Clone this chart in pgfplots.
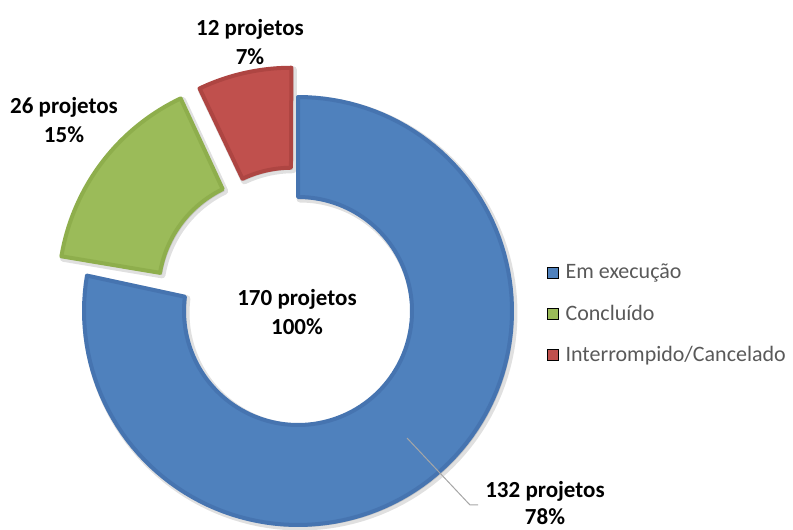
\documentclass[border=0pt]{standalone}
\usepackage{pgfplots}
\usepackage{pgfplotstable}
\pgfplotsset{compat=1.18}
\usepackage{fontspec}
\setmainfont{Carlito}
\definecolor{cblue}{HTML}{4F81BD}
\definecolor{cblueD}{HTML}{4674B0}
\definecolor{cgreen}{HTML}{9BBB59}
\definecolor{cgreenD}{HTML}{8EAE4C}
\definecolor{cred}{HTML}{C0504D}
\definecolor{credD}{HTML}{AE4542}
\definecolor{legendgray}{HTML}{595959}

\pgfplotstableread{
name value explode
Em 132 0
Concluido 26 32
Interrompido 12 30
}\piedata
\pgfplotstablegetelem{0}{value}\of\piedata \let\vA\pgfplotsretval
\pgfplotstablegetelem{1}{value}\of\piedata \let\vB\pgfplotsretval
\pgfplotstablegetelem{2}{value}\of\piedata \let\vC\pgfplotsretval
\pgfplotstablegetelem{0}{explode}\of\piedata \let\eA\pgfplotsretval
\pgfplotstablegetelem{1}{explode}\of\piedata \let\eB\pgfplotsretval
\pgfplotstablegetelem{2}{explode}\of\piedata \let\eC\pgfplotsretval
\pgfmathsetmacro\tot{\vA+\vB+\vC}
\pgfmathsetmacro\aA{90}
\pgfmathsetmacro\aB{90-360*(\vA/\tot)}
\pgfmathsetmacro\aC{\aB-360*(\vB/\tot)}
\pgfmathsetmacro\aD{\aC-360*(\vC/\tot)}
\pgfmathsetmacro\dxA{\eA*cos((\aA+\aB)/2)}
\pgfmathsetmacro\dyA{\eA*sin((\aA+\aB)/2)}
\pgfmathsetmacro\dxB{\eB*cos((\aB+\aC)/2)}
\pgfmathsetmacro\dyB{\eB*sin((\aB+\aC)/2)}
\pgfmathsetmacro\dxC{\eC*cos((\aC+\aD)/2)}
\pgfmathsetmacro\dyC{\eC*sin((\aC+\aD)/2)}
\def\cx{298}\def\cy{219}\def\Ro{214}\def\Ri{114}
% sector: #1 start angle, #2 end angle, #3 dx, #4 dy, #5 style
\newcommand\sector[5]{%
\addplot[line join=round, domain=0:2, samples=241, variable=\t, forget plot, #5]
 ({\cx+#3+((\t<=1.001) ? \Ro : \Ri)*cos((\t<=1.001) ? (#1+(#2-#1)*\t) : (#2-(#2-#1)*(\t-1)))},
  {\cy+#4+((\t<=1.001) ? \Ro : \Ri)*sin((\t<=1.001) ? (#1+(#2-#1)*\t) : (#2-(#2-#1)*(\t-1)))}) -- cycle;}

\begin{document}%
\begin{tikzpicture}
\path[use as bounding box] (0,0) rectangle (793bp,530bp);
\begin{axis}[scale only axis, width=793bp, height=530bp,
  xmin=0, xmax=793, ymin=0, ymax=530, hide axis, clip=false,
  legend style={at={(axis cs:547,268)}, anchor=north west, draw=none, fill=none,
    font=\fontsize{22bp}{26bp}\selectfont, text=legendgray, row sep=20.5bp, inner sep=0pt,
    cells={anchor=west}},
  legend cell align=left,
  legend image code/.code={\fill[#1] (0bp,-5.5bp) rectangle (11bp,5.5bp); \path (16bp,0bp);}]
% soft shadows
\sector{\aA}{\aB}{\dxA+2}{\dyA-2}{fill=black, draw=black, opacity=0.12, line width=7bp}
\sector{\aB}{\aC}{\dxB+2}{\dyB-2}{fill=black, draw=black, opacity=0.12, line width=7bp}
\sector{\aC}{\aD}{\dxC+2}{\dyC-2}{fill=black, draw=black, opacity=0.12, line width=7bp}
% sectors
\sector{\aA}{\aB}{\dxA}{\dyA}{fill=cblue, draw=cblueD, line width=4bp}
\sector{\aB}{\aC}{\dxB}{\dyB}{fill=cgreen, draw=cgreenD, line width=4bp}
\sector{\aC}{\aD}{\dxC}{\dyC}{fill=cred, draw=credD, line width=4bp}
\addlegendimage{fill=cblue}
\addlegendentry{Em execução}
\addlegendimage{fill=cgreen}
\addlegendentry{Concluído}
\addlegendimage{fill=cred}
\addlegendentry{Interrompido/Cancelado}
\addplot[gray!70, line width=1bp, forget plot] coordinates {(407,92) (470,25) (478,25)};
\begin{scope}[every node/.style={align=center, font=\bfseries\fontsize{23bp}{29bp}\selectfont}]
\node at (axis cs:250,487.5) {12 projetos\\7\%};
\node at (axis cs:64,410) {26 projetos\\15\%};
\node at (axis cs:297,217.5) {170 projetos\\100\%};
\node[font=\bfseries\fontsize{23bp}{27bp}\selectfont] at (axis cs:545,26.5) {132 projetos\\78\%};
\end{scope}
\end{axis}
\end{tikzpicture}%
\end{document}
